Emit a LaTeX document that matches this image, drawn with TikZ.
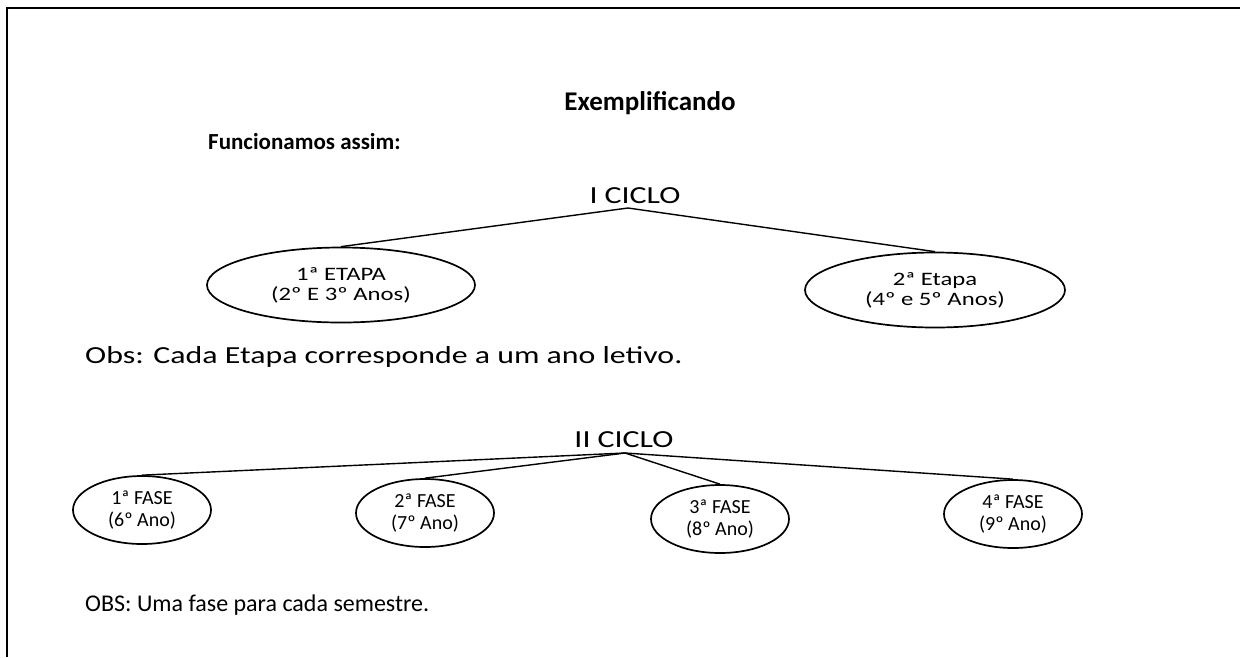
\documentclass[tikz,border=0pt]{standalone}
\usepackage{fontspec}
\setmainfont{Carlito}[FakeStretch=1.3]
\newfontfamily\plainfont{Carlito}
\usetikzlibrary{shapes.geometric}
\begin{document}
\begin{tikzpicture}[x=1pt,y=-1pt,
  big/.style={inner sep=0pt,font=\fontsize{24.5}{28}\selectfont},
  plainbig/.style={inner sep=0pt,font=\plainfont\fontsize{24}{28}\selectfont},
  head/.style={inner sep=0pt,font=\plainfont\bfseries\fontsize{27}{30}\selectfont},
  subhead/.style={inner sep=0pt,font=\plainfont\bfseries\fontsize{23}{26}\selectfont},
  oval/.style={ellipse,draw,line width=1.7pt,inner sep=0pt,align=center},
  etapa/.style={oval,font=\fontsize{19}{20}\selectfont},
  fase/.style={oval,font=\plainfont\fontsize{20}{22}\selectfont,minimum width=138,minimum height=68},
  link/.style={line width=1.4pt}]
\useasboundingbox (0,0) rectangle (1240,657);
\draw[line width=2.2pt] (7,657) -- (7,8) -- (1240,8);
\node[head] (title) at (650,103) {Exemplificando};
\node[subhead,anchor=west] (func) at (208,142) {Funcionamos assim:};
% I CICLO
\node[big] (c1) at (635,196) {I CICLO};
\coordinate (a1) at (628,208);
\node[etapa,minimum width=268,minimum height=75] (e1) at (341,285) {1ª ETAPA\\(2º E 3º Anos)};
\node[etapa,minimum width=260,minimum height=75] (e2) at (935,290) {2ª Etapa\\(4º e 5º Anos)};
\draw[link] (e1.north) -- (a1) -- (e2.north);
\node[big,anchor=west] (obs1) at (85,357) {Obs: Cada Etapa corresponde a um ano letivo.};
% II CICLO
\node[big] (c2) at (624,440) {II CICLO};
\coordinate (a2) at (625,453);
\node[fase] (f1) at (142,510) {1ª FASE\\(6º Ano)};
\node[fase] (f2) at (425,513) {2ª FASE\\(7º Ano)};
\node[fase] (f3) at (720,519) {3ª FASE\\(8º Ano)};
\node[fase] (f4) at (1013,514) {4ª FASE\\(9º Ano)};
\draw[link] (f1.north) -- (a2) -- (f4.north);
\draw[link] (f2.north) -- (a2) -- (f3.north);
\node[plainbig,anchor=west] (obs2) at (85,605) {OBS: Uma fase para cada semestre.};
\end{tikzpicture}
\end{document}
